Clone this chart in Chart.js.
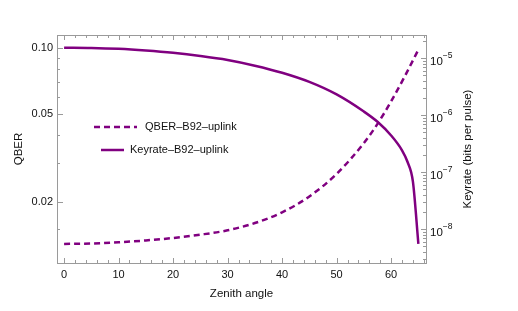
<!DOCTYPE html>
<html>
<head>
<meta charset="utf-8">
<script src="https://cdn.jsdelivr.net/npm/chart.js@4"></script>
<style>
  body { margin: 0; background: #fff; }
</style>
</head>
<body>
<canvas id="chart" width="518" height="311"></canvas>
<script>
// values
const qberAngles = [0, 5, 10, 15, 20, 25, 30, 35, 40, 45, 50, 55, 57.5, 60, 62.5, 65];
const qberValues = [0.01282, 0.01288, 0.01305, 0.0133, 0.01365, 0.01413, 0.01479, 0.01596, 0.01786,
                    0.0211, 0.02673, 0.0369, 0.04512, 0.05715, 0.0743, 0.09817];

const keyAngles = [0, 5, 10, 15, 20, 25, 30, 35, 40, 45, 50, 55, 57.5, 60, 62, 63, 64, 65];
const keyValues = [1.517e-5, 1.5e-5, 1.445e-5, 1.349e-5, 1.23e-5, 1.084e-5, 9.23e-6, 7.33e-6, 5.5e-6,
                   3.8e-6, 2.29e-6, 1.148e-6, 7.59e-7, 4.37e-7, 2.4e-7, 1.51e-7, 6.76e-8, 5.5e-9];

const xMajor = [0, 10, 20, 30, 40, 50, 60];
const qberMajor = [0.02, 0.05, 0.1];
const qberMinor = [0.015, 0.03, 0.04, 0.06, 0.07, 0.08, 0.09];
const keyMajor = [1e-8, 1e-7, 1e-6, 1e-5];
const keyExponents = ["−8", "−7", "−6", "−5"];

const purple = "#800080";
const frameColor = "#9a9a9a";
const font = '"Liberation Sans", Arial, sans-serif';

const toPoints = (xs, ys) => xs.map((x, i) => ({ x: x, y: ys[i] }));

// frame with inward ticks, titles and legend, like the original
const framePlugin = {
  id: "frame",
  beforeDatasetsDraw(chart) {
    const ctx = chart.ctx;
    const { left, right, top, bottom } = chart.chartArea;
    const xs = chart.scales.x, ys = chart.scales.y, ks = chart.scales.y2;
    ctx.save();
    ctx.strokeStyle = frameColor;
    ctx.lineWidth = 1;
    ctx.strokeRect(Math.round(left) + 0.5, Math.round(top) + 0.5,
                   Math.round(right - left), Math.round(bottom - top));
    ctx.beginPath();
    for (let v = 0; v <= 66; v += 2) {
      const px = Math.round(xs.getPixelForValue(v)) + 0.5;
      const len = xMajor.includes(v) ? 5 : 3;
      ctx.moveTo(px, bottom); ctx.lineTo(px, bottom - len);
      ctx.moveTo(px, top); ctx.lineTo(px, top + len);
    }
    qberMajor.concat(qberMinor).forEach((v) => {
      const py = Math.round(ys.getPixelForValue(v)) + 0.5;
      const len = qberMajor.includes(v) ? 6 : 3;
      ctx.moveTo(left, py); ctx.lineTo(left + len, py);
    });
    for (let k = -9; k <= -5; k++) {
      for (let m = 1; m <= 9; m++) {
        const v = m * Math.pow(10, k);
        if (v < ks.min || v > ks.max) continue;
        const py = Math.round(ks.getPixelForValue(v)) + 0.5;
        const len = m === 1 ? 5 : 3;
        ctx.moveTo(right, py); ctx.lineTo(right - len, py);
      }
    }
    ctx.stroke();

    // right axis labels 10^k with a raised exponent
    ctx.fillStyle = "#111";
    ctx.textBaseline = "alphabetic";
    keyMajor.forEach((v, i) => {
      const py = ks.getPixelForValue(v);
      ctx.font = "11.5px " + font;
      ctx.fillText("10", right + 4, py + 7);
      const w = ctx.measureText("10").width;
      ctx.font = "8.5px " + font;
      ctx.fillText(keyExponents[i], right + 4 + w, py + 0.5);
    });
    ctx.restore();
  },
  afterDraw(chart) {
    const ctx = chart.ctx;
    const { left, right, top, bottom } = chart.chartArea;
    const midY = (top + bottom) / 2;
    ctx.save();
    ctx.fillStyle = "#111";
    ctx.font = "11.5px " + font;
    ctx.textAlign = "center";
    ctx.textBaseline = "middle";
    ctx.fillText("Zenith angle", (left + right) / 2, 294);
    ctx.translate(19, midY);
    ctx.rotate(-Math.PI / 2);
    ctx.fillText("QBER", 0, 0);
    ctx.restore();

    ctx.save();
    ctx.fillStyle = "#111";
    ctx.font = "11.5px " + font;
    ctx.textAlign = "center";
    ctx.textBaseline = "middle";
    ctx.translate(468, midY);
    ctx.rotate(-Math.PI / 2);
    ctx.fillText("Keyrate (bits per pulse)", 0, 0);
    ctx.restore();

    // legend inside the plot
    const ds = chart.data.datasets;
    ctx.save();
    ctx.strokeStyle = purple;
    ctx.lineWidth = 2.5;
    ctx.setLineDash([6, 4]);
    ctx.beginPath(); ctx.moveTo(94, 127); ctx.lineTo(137, 127); ctx.stroke();
    ctx.setLineDash([]);
    ctx.beginPath(); ctx.moveTo(101, 150); ctx.lineTo(124, 150); ctx.stroke();
    ctx.fillStyle = "#111";
    ctx.font = "11px " + font;
    ctx.textBaseline = "middle";
    ctx.fillText(ds[0].label, 145, 127);
    ctx.fillText(ds[1].label, 130, 150);
    ctx.restore();
  }
};

new Chart(document.getElementById("chart"), {
  type: "line",
  data: {
    datasets: [
      {
        label: "QBER–B92–uplink",
        data: toPoints(qberAngles, qberValues),
        yAxisID: "y",
        borderColor: purple,
        borderWidth: 2.5,
        borderDash: [6, 4],
        pointRadius: 0,
        cubicInterpolationMode: "monotone",
        fill: false,
      },
      {
        label: "Keyrate–B92–uplink",
        data: toPoints(keyAngles, keyValues),
        yAxisID: "y2",
        borderColor: purple,
        borderWidth: 2.5,
        pointRadius: 0,
        cubicInterpolationMode: "monotone",
        fill: false,
      },
    ],
  },
  options: {
    responsive: false,
    animation: false,
    layout: { padding: { top: 35, left: 0, right: 0, bottom: 0 } },
    plugins: { legend: { display: false }, tooltip: { enabled: false } },
    scales: {
      x: {
        type: "linear",
        min: -1.3,
        max: 66.4,
        grid: { display: false, drawTicks: false },
        border: { display: false },
        afterBuildTicks: (s) => { s.ticks = xMajor.map((v) => ({ value: v })); },
        afterFit: (s) => { s.height = 48; },
        ticks: { padding: 5, color: "#111", font: { family: font, size: 11 }, maxRotation: 0 },
      },
      y: {
        type: "logarithmic",
        position: "left",
        min: 0.0105,
        max: 0.1146,
        grid: { display: false, drawTicks: false },
        border: { display: false },
        afterBuildTicks: (s) => { s.ticks = qberMajor.map((v) => ({ value: v })); },
        afterFit: (s) => { s.width = 57; },
        ticks: {
          padding: 4,
          color: "#111",
          font: { family: font, size: 11 },
          callback: (v) => v.toFixed(2),
        },
      },
      y2: {
        type: "logarithmic",
        position: "right",
        min: 2.53e-9,
        max: 2.53e-5,
        grid: { display: false, drawTicks: false },
        border: { display: false },
        ticks: { display: false },
        afterFit: (s) => { s.width = 92; },
      },
    },
  },
  plugins: [framePlugin],
});
</script>
</body>
</html>
